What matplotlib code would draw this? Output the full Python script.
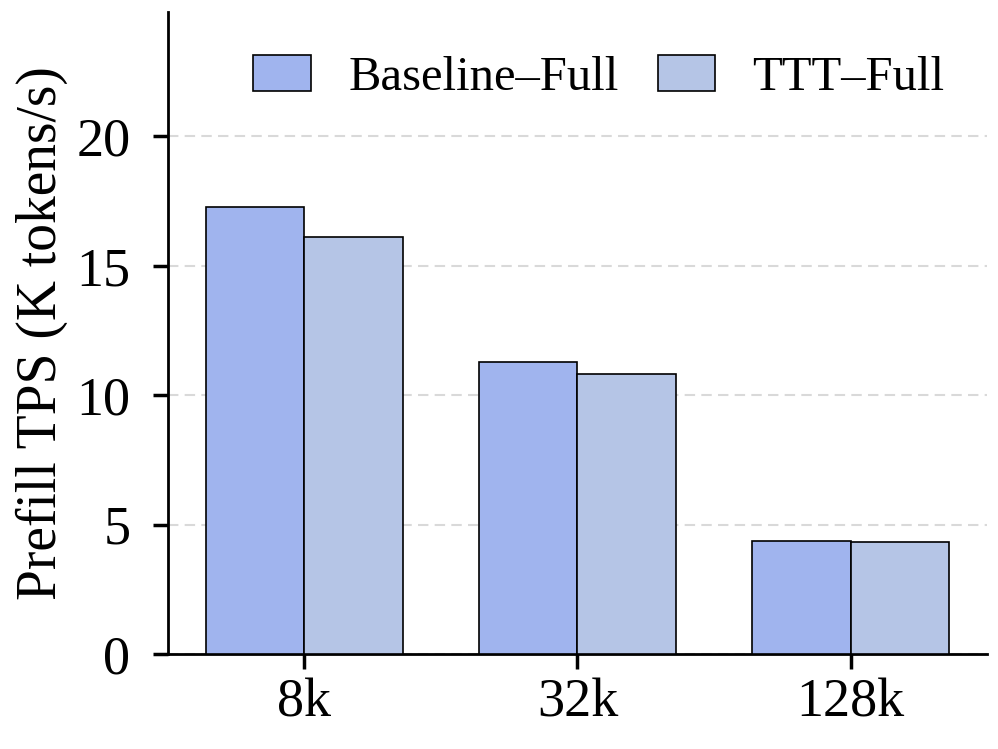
import matplotlib
matplotlib.use("Agg")
import matplotlib.pyplot as plt
import numpy as np

contexts = ["8k", "32k", "128k"]
baseline_full = [17.27, 11.28, 4.37]
ttt_full = [16.11, 10.81, 4.33]
series_labels = ["Baseline\u2013Full", "TTT\u2013Full"]
y_ticks = [0, 5, 10, 15, 20]

plt.rcParams["font.family"] = ["Liberation Serif", "DejaVu Serif"]
plt.rcParams["font.size"] = 40

fig = plt.figure(figsize=(9.98, 7.49), dpi=100)
ax = fig.add_axes([0.1683, 0.1268, 0.8207, 0.857])

x = np.arange(len(contexts))
width = 0.36
ax.bar(x - width / 2, baseline_full, width, color="#a0b4ee", edgecolor="black",
       linewidth=1.2, label=series_labels[0], zorder=3)
ax.bar(x + width / 2, ttt_full, width, color="#b5c5e6", edgecolor="black",
       linewidth=1.2, label=series_labels[1], zorder=3)

ax.set_xlim(-0.5, 2.5)
ax.set_ylim(0, 24.8)
ax.set_yticks(y_ticks)
ax.set_xticks(x, contexts)
ax.yaxis.grid(True, linestyle=(0, (5, 3)), color="#d9d9d9", linewidth=1.5, zorder=0)
ax.set_ylabel("Prefill TPS (K tokens/s)", labelpad=6)

for side in ["top", "right"]:
    ax.spines[side].set_visible(False)
for side in ["left", "bottom"]:
    ax.spines[side].set_linewidth(2.0)
ax.tick_params(axis="both", length=11, width=2.5, labelsize=39)
ax.tick_params(axis="y", pad=16)
ax.tick_params(axis="x", pad=6)

ax.legend(loc="upper right", ncol=2, frameon=False, bbox_to_anchor=(0.948, 0.933),
          fontsize=35, borderpad=0, borderaxespad=0,
          handlelength=1.19, handleheight=0.76, columnspacing=0.8, handletextpad=0.76)

fig.savefig("out.png", dpi=100)
